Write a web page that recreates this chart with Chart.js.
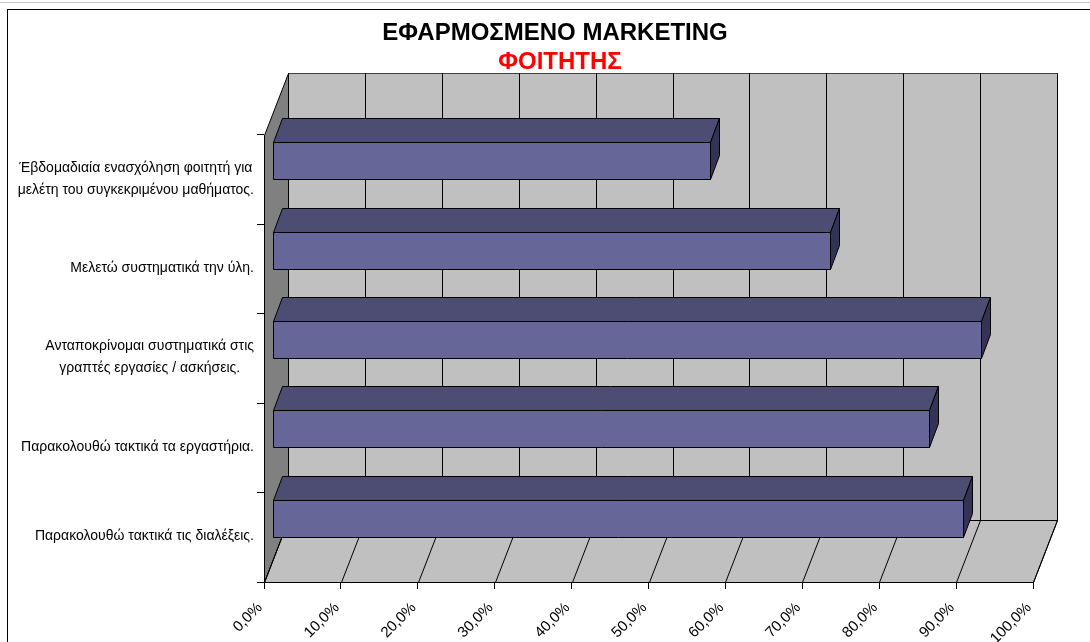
<!DOCTYPE html>
<html>
<head>
<meta charset="utf-8">
<title>ΕΦΑΡΜΟΣΜΕΝΟ MARKETING</title>
<script src="https://cdn.jsdelivr.net/npm/chart.js@4.4.1/dist/chart.umd.min.js"></script>
<style>
  html, body { margin: 0; padding: 0; background: #fff; overflow: hidden; }
  #wrap { position: relative; width: 1090px; height: 642px; }
  #topLine { position: absolute; left: 0; top: 2px; width: 1090px; height: 1px; background: #c8c8c8; }
  #frame { position: absolute; left: 7px; top: 9px; width: 1200px; height: 700px; border: 1px solid #000; }
  canvas { position: absolute; left: 0; top: 0; }
</style>
</head>
<body>
<div id="wrap">
  <div id="topLine"></div>
  <div id="frame"></div>
  <canvas id="chart" width="1090" height="642"></canvas>
</div>
<script>
const titleText = 'ΕΦΑΡΜΟΣΜΕΝΟ MARKETING';
const subtitleText = 'ΦΟΙΤΗΤΗΣ';

const categories = [
  ['Έβδομαδιαία ενασχόληση φοιτητή για', 'μελέτη του συγκεκριμένου μαθήματος.'],
  ['Μελετώ συστηματικά την ύλη.'],
  ['Ανταποκρίνομαι συστηματικά στις', 'γραπτές εργασίες / ασκήσεις.'],
  ['Παρακολουθώ τακτικά τα εργαστήρια.'],
  ['Παρακολουθώ τακτικά τις διαλέξεις.']
];
const values = [0.570, 0.726, 0.922, 0.854, 0.898];
const tickLabels = ['0,0%', '10,0%', '20,0%', '30,0%', '40,0%', '50,0%',
                    '60,0%', '70,0%', '80,0%', '90,0%', '100,0%'];

// 3d offsets (pixels) - the look of the old excel 3d bar chart
const WALL = { x: 24, y: -62 };
const BAR_FRONT = { x: 8, y: -19 };
const BAR_DEPTH = { x: 9, y: -24 };
const FONT = "'Liberation Sans', Arial, sans-serif";

function poly(ctx, pts, fill, stroke) {
    ctx.beginPath();
    ctx.moveTo(pts[0][0], pts[0][1]);
    for (let i = 1; i < pts.length; i++) ctx.lineTo(pts[i][0], pts[i][1]);
    ctx.closePath();
    if (fill) { ctx.fillStyle = fill; ctx.fill(); }
    if (stroke) { ctx.strokeStyle = stroke; ctx.lineWidth = 1; ctx.stroke(); }
}

const excel3d = {
    id: 'excel3d',
    beforeDatasetsDraw(chart) {
        const ctx = chart.ctx;
        const a = chart.chartArea;
        const xs = chart.scales.x;
        const L = Math.round(a.left) + 0.5, R = Math.round(a.right) + 0.5;
        const T = Math.round(a.top) + 0.5, B = Math.round(a.bottom) + 0.5;
        ctx.save();
        // back wall
        poly(ctx, [[L + WALL.x, T + WALL.y], [R + WALL.x, T + WALL.y],
                   [R + WALL.x, B + WALL.y], [L + WALL.x, B + WALL.y]], '#c0c0c0', '#404040');
        // left wall
        poly(ctx, [[L, T], [L + WALL.x, T + WALL.y], [L + WALL.x, B + WALL.y], [L, B]], '#808080', '#000');
        // floor
        poly(ctx, [[L, B], [R, B], [R + WALL.x, B + WALL.y], [L + WALL.x, B + WALL.y]], '#c0c0c0', '#000');
        // gridlines on back wall and floor
        ctx.strokeStyle = '#000';
        ctx.lineWidth = 1;
        xs.ticks.forEach(t => {
            const px = Math.round(xs.getPixelForValue(t.value)) + 0.5;
            ctx.beginPath();
            ctx.moveTo(px + WALL.x, T + WALL.y);
            ctx.lineTo(px + WALL.x, B + WALL.y);
            ctx.moveTo(px, B);
            ctx.lineTo(px + WALL.x, B + WALL.y);
            ctx.stroke();
        });
        ctx.restore();
    },
    afterDatasetsDraw(chart) {
        const ctx = chart.ctx;
        ctx.save();
        chart.getDatasetMeta(0).data.forEach(bar => {
            const p = bar.getProps(['x', 'y', 'base', 'height'], true);
            const x0 = Math.round(Math.min(p.base, p.x) + BAR_FRONT.x) + 0.5;
            const x1 = Math.round(Math.max(p.base, p.x) + BAR_FRONT.x) + 0.5;
            const y0 = Math.round(p.y - p.height / 2 + BAR_FRONT.y) + 0.5;
            const y1 = Math.round(p.y + p.height / 2 + BAR_FRONT.y) + 0.5;
            // top
            poly(ctx, [[x0, y0], [x0 + BAR_DEPTH.x, y0 + BAR_DEPTH.y],
                       [x1 + BAR_DEPTH.x, y0 + BAR_DEPTH.y], [x1, y0]], '#4d4d73', '#000');
            // side
            poly(ctx, [[x1, y0], [x1 + BAR_DEPTH.x, y0 + BAR_DEPTH.y],
                       [x1 + BAR_DEPTH.x, y1 + BAR_DEPTH.y], [x1, y1]], '#333355', '#000');
            // front
            poly(ctx, [[x0, y0], [x1, y0], [x1, y1], [x0, y1]], '#666699', '#000');
        });
        ctx.restore();
    },
    afterDraw(chart) {
        const ctx = chart.ctx;
        const ys = chart.scales.y;
        ctx.save();
        // category labels: block right aligned, lines centred in the block
        ctx.font = '14px ' + FONT;
        ctx.fillStyle = '#000';
        ctx.textAlign = 'center';
        ctx.textBaseline = 'middle';
        const lineH = 22;
        categories.forEach((lines, i) => {
            const cy = ys.getPixelForTick(i) - 1;
            const w = Math.max(...lines.map(s => ctx.measureText(s).width));
            const cx = 254 - w / 2;
            lines.forEach((s, j) => {
                ctx.fillText(s, cx, cy + (j - (lines.length - 1) / 2) * lineH);
            });
        });
        // titles
        ctx.font = 'bold 24px ' + FONT;
        ctx.fillText(titleText, 555, 33);
        ctx.fillStyle = '#ff0000';
        ctx.fillText(subtitleText, 560, 62);
        ctx.restore();
    }
};

new Chart(document.getElementById('chart'), {
    type: 'bar',
    data: {
        labels: categories,
        datasets: [{
            data: values,
            backgroundColor: 'rgba(0,0,0,0)',
            borderWidth: 0,
            barPercentage: 0.414,
            categoryPercentage: 1
        }]
    },
    options: {
        indexAxis: 'y',
        responsive: false,
        animation: false,
        layout: { padding: { top: 135, right: 57, left: 0, bottom: 0 } },
        plugins: {
            legend: { display: false },
            tooltip: { enabled: false }
        },
        scales: {
            x: {
                min: 0,
                max: 1,
                afterFit: s => { s.height = 60; },
                ticks: {
                    stepSize: 0.1,
                    autoSkip: false,
                    minRotation: 45,
                    maxRotation: 45,
                    padding: 10,
                    labelOffset: -4,
                    color: '#000',
                    font: { family: FONT, size: 15 },
                    callback: (v, i) => tickLabels[i]
                },
                grid: { drawOnChartArea: false, tickLength: 7, color: '#000' },
                border: { color: '#000' }
            },
            y: {
                afterFit: s => { s.width = 264; },
                ticks: { display: false },
                grid: { offset: true, drawOnChartArea: false, tickLength: 7, color: '#000' },
                border: { color: '#000' }
            }
        }
    },
    plugins: [excel3d]
});
</script>
</body>
</html>
